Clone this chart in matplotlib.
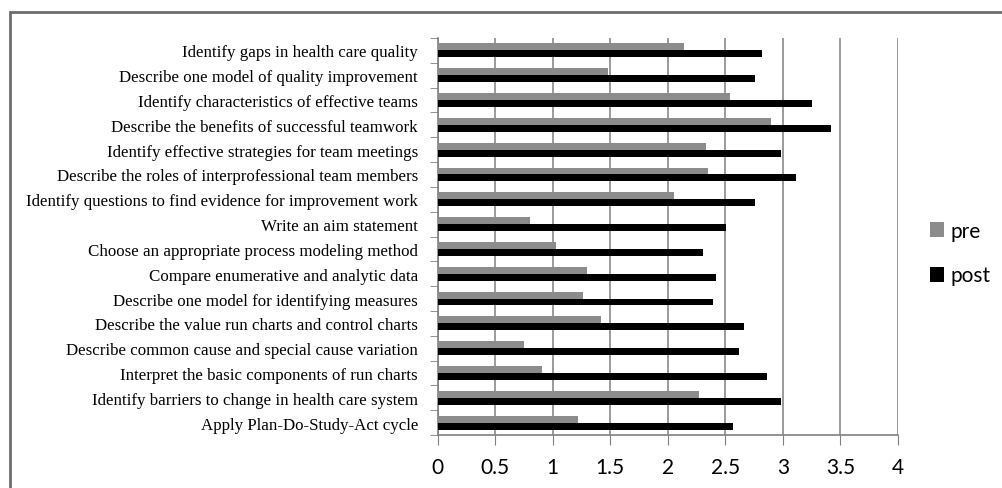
import matplotlib.pyplot as plt
import matplotlib.patches as patches
import numpy as np

items = [
    'Identify gaps in health care quality',
    'Describe one model of quality improvement',
    'Identify characteristics of effective teams',
    'Describe the benefits of successful teamwork',
    'Identify effective strategies for team meetings',
    'Describe the roles of interprofessional team members',
    'Identify questions to find evidence for improvement work',
    'Write an aim statement',
    'Choose an appropriate process modeling method',
    'Compare enumerative and analytic data',
    'Describe one model for identifying measures',
    'Describe the value run charts and control charts',
    'Describe common cause and special cause variation',
    'Interpret the basic components of run charts',
    'Identify barriers to change in health care system',
    'Apply Plan-Do-Study-Act cycle',
]
pre = [2.14, 1.48, 2.54, 2.90, 2.33, 2.35, 2.05, 0.80,
       1.03, 1.30, 1.26, 1.42, 0.75, 0.91, 2.27, 1.22]
post = [2.82, 2.76, 3.25, 3.42, 2.98, 3.11, 2.76, 2.51,
        2.31, 2.42, 2.39, 2.66, 2.62, 2.86, 2.98, 2.57]
xticks = [0, 0.5, 1, 1.5, 2, 2.5, 3, 3.5, 4]

fig = plt.figure(figsize=(10.02, 4.89), dpi=100)
ax = fig.add_axes([437.5 / 1002, 1 - 436 / 489, 460.5 / 1002, 397 / 489])

# outer frame (cut off at right and bottom like the scan)
fig.patches.append(patches.Rectangle((10 / 1002, -0.1), 1.2, 1 - 13 / 489 + 0.1,
                                     transform=fig.transFigure, fill=False,
                                     edgecolor='#6e6e6e', linewidth=2))

n = len(items)
y = np.arange(n)
h = 0.28
ax.barh(y - h / 2, pre, height=h, color='#8c8c8c', label='pre', zorder=3)
ax.barh(y + h / 2, post, height=h, color='#000000', label='post', zorder=3)

ax.set_ylim(n - 0.5, -0.5)
ax.set_xlim(0, 4)
ax.set_yticks(y)
ax.set_yticklabels(items, fontfamily='Liberation Serif', fontsize=12.2)
ax.tick_params(axis='y', length=0, pad=14)
ax.set_yticks(np.arange(n + 1) - 0.5, minor=True)
ax.tick_params(axis='y', which='minor', length=6, color='#808080', direction='out')

ax.set_xticks(xticks)
ax.set_xticklabels([f'{t:g}' for t in xticks], fontfamily='Lato', fontsize=15)
ax.tick_params(axis='x', length=7, color='#808080', pad=9)
ax.grid(axis='x', color='#8a8a8a', linewidth=1.2, zorder=0)

for s in ['top', 'right']:
    ax.spines[s].set_visible(False)
for s in ['left', 'bottom']:
    ax.spines[s].set_color('#808080')
    ax.spines[s].set_linewidth(1.2)

leg = fig.legend(loc='center left', bbox_to_anchor=(911 / 1002, 1 - 254 / 489),
                 frameon=False, prop={'family': 'Lato', 'size': 15},
                 handlelength=0.7, handleheight=0.7, handletextpad=0.3,
                 labelspacing=1.2)

fig.savefig('out.png', dpi=100)
